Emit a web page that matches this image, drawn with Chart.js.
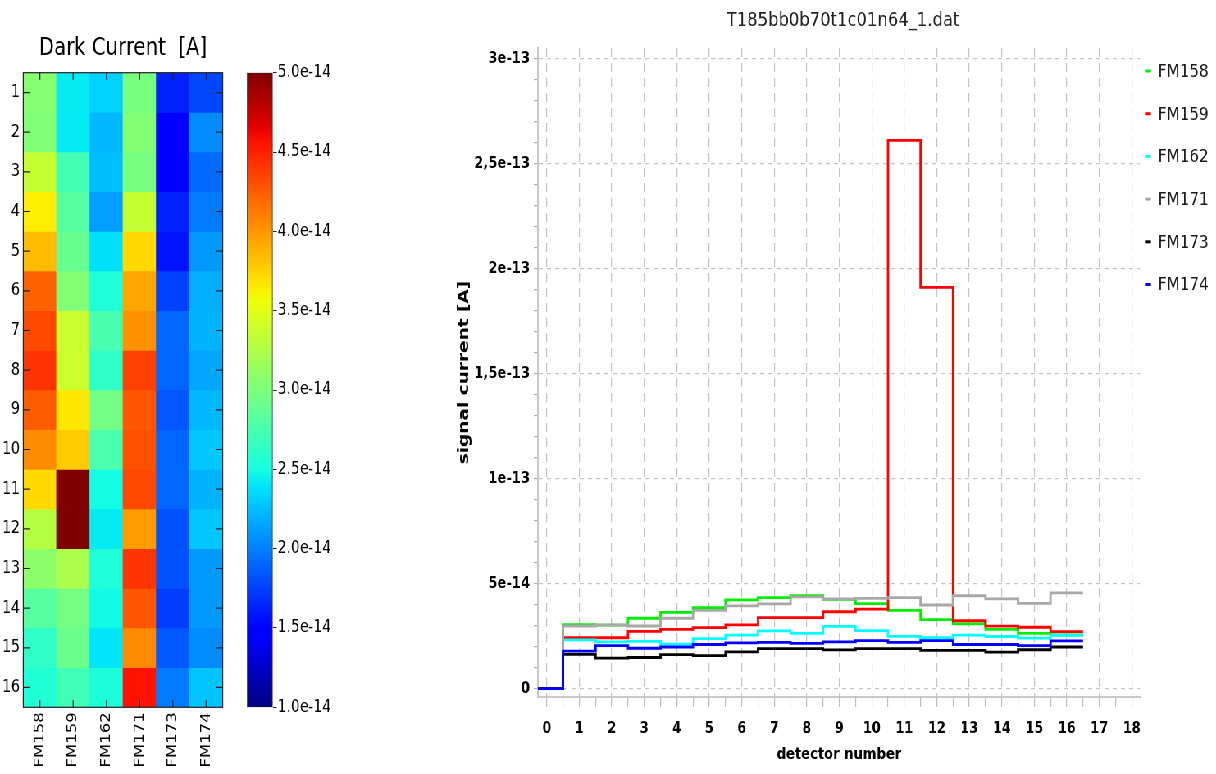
<!DOCTYPE html>
<html>
<head>
<meta charset="utf-8">
<script src="https://cdn.jsdelivr.net/npm/chart.js@4/dist/chart.umd.min.js"></script>
<style>
  html, body { margin: 0; padding: 0; background: #fff; overflow: hidden; }
  #stage { position: absolute; left: 0; top: 0; width: 1483px; height: 774px;
           transform: scaleX(0.82); transform-origin: 0 0; }
  .box { position: absolute; top: 0; height: 774px; }
</style>
</head>
<body>
<div id="stage">
  <div class="box" style="left:0;width:300px"><canvas id="heat"></canvas></div>
  <div class="box" style="left:300px;width:110px"><canvas id="cbar"></canvas></div>
  <div class="box" style="left:500px;width:983px"><canvas id="line"></canvas></div>
</div>
<script>
// ---------------- data (currents in units of 1e-14 A) ----------------
const detectors = [0, 1, 2, 3, 4, 5, 6, 7, 8, 9, 10, 11, 12, 13, 14, 15, 16];
const modules   = ['FM158', 'FM159', 'FM162', 'FM171', 'FM173', 'FM174'];
const lineColors = ['#00EE00', '#FF0000', '#00FFFF', '#A8A8A8', '#000000', '#0000FF'];

const FM158 = [0, 3.05, 3.02, 3.35, 3.63, 3.85, 4.22, 4.33, 4.42, 4.25, 4.05, 3.72, 3.28, 3.08, 2.82, 2.63, 2.56];
const FM159 = [0, 2.42, 2.42, 2.72, 2.82, 2.90, 3.03, 3.38, 3.38, 3.66, 3.78, 26.1, 19.1, 3.23, 2.97, 2.92, 2.71];
const FM162 = [0, 2.32, 2.22, 2.25, 2.12, 2.38, 2.55, 2.75, 2.63, 2.96, 2.76, 2.49, 2.42, 2.55, 2.48, 2.40, 2.54];
const FM171 = [0, 2.98, 3.03, 2.98, 3.35, 3.72, 3.94, 4.03, 4.37, 4.27, 4.30, 4.33, 3.98, 4.42, 4.27, 4.06, 4.56];
const FM173 = [0, 1.63, 1.45, 1.48, 1.62, 1.57, 1.75, 1.90, 1.90, 1.84, 1.90, 1.90, 1.82, 1.82, 1.74, 1.85, 1.98];
const FM174 = [0, 1.78, 2.05, 1.92, 1.98, 2.10, 2.18, 2.20, 2.15, 2.22, 2.28, 2.20, 2.28, 2.10, 2.10, 2.05, 2.27];
const seriesValues = [FM158, FM159, FM162, FM171, FM173, FM174];

// heat map rows (detectors 1..16)
const heatRows = ['1','2','3','4','5','6','7','8','9','10','11','12','13','14','15','16'];
// colour bar
const cbarRange  = [1.0, 5.0];
const cbarTicks  = [1.0, 1.5, 2.0, 2.5, 3.0, 3.5, 4.0, 4.5, 5.0];
const cbarLabels = ['1.0e-14','1.5e-14','2.0e-14','2.5e-14','3.0e-14','3.5e-14','4.0e-14','4.5e-14','5.0e-14'];
// line chart axes
const yMajor  = [0, 5, 10, 15, 20, 25, 30];
const yLabels = ['0', '5e-14', '1e-13', '1,5e-13', '2e-13', '2,5e-13', '3e-13'];
const xTicks  = [0,1,2,3,4,5,6,7,8,9,10,11,12,13,14,15,16,17,18];
const xLabels = ['0','1','2','3','4','5','6','7','8','9','10','11','12','13','14','15','16','17','18'];

const HEAT_TITLE = 'Dark Current  [A]';
const LINE_TITLE = 'T185bb0b70t1c01n64_1.dat';
const FONT = '"DejaVu Sans", sans-serif';

// ---------------- jet colormap ----------------
const JET = {
  r: [[0,0],[0.35,0],[0.66,1],[0.89,1],[1,0.5]],
  g: [[0,0],[0.125,0],[0.375,1],[0.64,1],[0.91,0],[1,0]],
  b: [[0,0.5],[0.11,1],[0.34,1],[0.65,0],[1,0]]
};
function seg(p, t) {
  for (let i = 1; i < p.length; i++) {
    if (t <= p[i][0]) {
      const [x0, y0] = p[i-1], [x1, y1] = p[i];
      return y0 + (y1 - y0) * (t - x0) / (x1 - x0);
    }
  }
  return p[p.length-1][1];
}
function jet(t) {
  t = Math.max(0, Math.min(1, t));
  return 'rgb(' + Math.round(255*seg(JET.r,t)) + ',' + Math.round(255*seg(JET.g,t)) + ',' + Math.round(255*seg(JET.b,t)) + ')';
}
function cmap(v) { return jet((v - cbarRange[0]) / (cbarRange[1] - cbarRange[0])); }

// ---------------- heat map ----------------
const heatFrame = {
  id: 'heatFrame',
  afterDatasetsDraw(chart) {
    const {ctx, chartArea: a, scales: {x, y}} = chart;
    ctx.save();
    ctx.strokeStyle = '#222';
    ctx.lineWidth = 1.2;
    ctx.beginPath();
    y.ticks.forEach(t => {
      const py = y.getPixelForValue(t.value);
      ctx.moveTo(a.left, py);  ctx.lineTo(a.left + 8.5, py);
      ctx.moveTo(a.right, py); ctx.lineTo(a.right - 8.5, py);
    });
    x.ticks.forEach((t, i) => {
      const px = x.getPixelForValue(i);
      ctx.moveTo(px, a.top);    ctx.lineTo(px, a.top + 7);
      ctx.moveTo(px, a.bottom); ctx.lineTo(px, a.bottom - 7);
    });
    ctx.stroke();
    ctx.strokeRect(a.left, a.top, a.right - a.left, a.bottom - a.top);
    ctx.restore();
  }
};

new Chart(document.getElementById('heat'), {
  type: 'bar',
  data: {
    labels: modules,
    datasets: heatRows.map((r, i) => ({
      label: r,
      data: modules.map(() => [detectors[i+1] - 0.5, detectors[i+1] + 0.5]),
      backgroundColor: modules.map((m, c) => cmap(seriesValues[c][i+1])),
      borderWidth: 0,
      grouped: false,
      barPercentage: 1,
      categoryPercentage: 1
    }))
  },
  options: {
    responsive: true, maintainAspectRatio: false, animation: false,
    devicePixelRatio: 1,
    layout: { padding: { left: 0, right: 0, top: 0, bottom: 0 } },
    plugins: {
      legend: { display: false }, tooltip: { enabled: false },
      title: { display: true, text: HEAT_TITLE, color: '#000',
               font: { family: FONT, size: 24, weight: 'normal' },
               padding: { top: 34.4, bottom: 9.5 } }
    },
    scales: {
      x: { type: 'category',
           grid: { display: false, drawTicks: false }, border: { display: false },
           ticks: { autoSkip: false, minRotation: 90, maxRotation: 90, padding: 5, color: '#000',
                    font: { family: FONT, size: 16.5 } },
           afterFit: s => { s.height = 66.7; } },
      y: { type: 'linear', min: 0.5, max: 16.5, reverse: true,
           grid: { display: false, drawTicks: false }, border: { display: false },
           afterBuildTicks: s => { s.ticks = heatRows.map((r, i) => ({ value: detectors[i+1] })); },
           ticks: { autoSkip: false, padding: 4, color: '#000', font: { family: FONT, size: 17 },
                    callback: (v, i) => heatRows[i] },
           afterFit: s => { s.width = 28.4; } },
      yRight: { type: 'linear', position: 'right', display: true,
                grid: { display: false, drawTicks: false }, border: { display: false },
                ticks: { display: false },
                afterFit: s => { s.width = 28.4; } }
    }
  },
  plugins: [heatFrame]
});

// ---------------- colour bar ----------------
new Chart(document.getElementById('cbar'), {
  type: 'bar',
  data: {
    labels: [''],
    datasets: [{
      data: [cbarRange],
      backgroundColor: c => {
        const a = c.chart.chartArea;
        if (!a) return '#888';
        const g = c.chart.ctx.createLinearGradient(0, a.bottom, 0, a.top);
        for (let i = 0; i <= 64; i++) g.addColorStop(i / 64, jet(i / 64));
        return g;
      },
      borderColor: '#222', borderWidth: 1.2, borderSkipped: false,
      barPercentage: 1, categoryPercentage: 1
    }]
  },
  options: {
    responsive: true, maintainAspectRatio: false, animation: false,
    devicePixelRatio: 1,
    layout: { padding: { left: 1.2, right: 0, top: 72.7, bottom: 66.7 } },
    plugins: { legend: { display: false }, tooltip: { enabled: false } },
    scales: {
      x: { display: false },
      y: { type: 'linear', position: 'right', min: cbarRange[0], max: cbarRange[1],
           afterBuildTicks: s => { s.ticks = cbarTicks.map(v => ({ value: v })); },
           grid: { drawOnChartArea: false, drawTicks: true, tickLength: 5, tickColor: '#222' },
           border: { display: false },
           ticks: { autoSkip: false, padding: 1, color: '#000', font: { family: FONT, size: 17 },
                    callback: (v, i) => cbarLabels[i] },
           afterFit: s => { s.width = 77.4; } }
    }
  }
});

// ---------------- step line chart ----------------
function stepData(vals) {
  const pts = vals.map((v, i) => ({ x: detectors[i] - 0.5, y: v }));
  pts.push({ x: detectors[detectors.length-1] + 0.5, y: vals[vals.length-1] });
  return pts;
}

const lineDecor = {
  id: 'lineDecor',
  afterDraw(chart) {
    const {ctx, chartArea: a} = chart;
    ctx.save();
    ctx.fillStyle = '#222';
    ctx.textAlign = 'center';
    ctx.textBaseline = 'middle';
    ctx.font = '20px ' + FONT;
    ctx.fillText(LINE_TITLE, (a.left + a.right) / 2 + 5, 21);
    ctx.textAlign = 'left';
    ctx.font = '18.5px ' + FONT;
    modules.forEach((m, k) => {
      const y = 71 + 42.7 * k;
      ctx.fillStyle = lineColors[k];
      ctx.fillRect(a.right + 6.1, y - 1.5, 7.3, 3);
      ctx.fillStyle = '#1a1a1a';
      ctx.fillText(m, a.right + 22, y + 1);
    });
    ctx.restore();
  }
};

new Chart(document.getElementById('line'), {
  type: 'line',
  data: {
    datasets: modules.map((m, k) => ({
      label: m,
      data: stepData(seriesValues[k]),
      borderColor: lineColors[k],
      backgroundColor: lineColors[k],
      borderWidth: 2.8,
      pointRadius: 0,
      stepped: true,
      fill: false,
      order: modules.length - 1 - k
    }))
  },
  options: {
    responsive: true, maintainAspectRatio: false, animation: false,
    devicePixelRatio: 1,
    layout: { padding: { left: 55, right: 92.8, top: 48, bottom: 10 } },
    plugins: { legend: { display: false }, tooltip: { enabled: false }, title: { display: false } },
    scales: {
      x: { type: 'linear', min: -0.27, max: 18.25,
           afterBuildTicks: s => {
             s.ticks = [];
             xTicks.forEach((v, i) => {
               s.ticks.push({ value: v });
               if (i < xTicks.length - 1) s.ticks.push({ value: v + 0.5 });
             });
           },
           ticks: { autoSkip: false, maxRotation: 0, padding: 13, color: '#000',
                    font: { family: FONT, size: 15.5, weight: 'bold' },
                    callback: v => { const i = xTicks.indexOf(v); return i >= 0 ? xLabels[i] : ''; } },
           grid: { color: c => (c.tick && xTicks.includes(c.tick.value)) ? '#C4C4C4' : 'rgba(0,0,0,0)',
                   tickColor: '#BDBDBD', tickLength: 10, lineWidth: 1.2 },
           border: { display: true, color: '#C8C8C8', width: 2, dash: [9, 6] },
           title: { display: true, text: 'detector number', color: '#000', padding: 0,
                    font: { family: FONT, size: 16, weight: 'bold' } },
           afterFit: s => { s.height = 67; } },
      y: { type: 'linear', min: -0.4, max: 30.5,
           afterBuildTicks: s => {
             s.ticks = [];
             for (let v = yMajor[0]; v <= yMajor[yMajor.length-1]; v++) s.ticks.push({ value: v });
           },
           ticks: { autoSkip: false, padding: 4.8, color: '#000',
                    font: { family: FONT, size: 16, weight: 'bold' },
                    callback: v => { const i = yMajor.indexOf(v); return i >= 0 ? yLabels[i] : ''; } },
           grid: { color: c => (c.tick && yMajor.includes(c.tick.value)) ? '#C4C4C4' : 'rgba(0,0,0,0)',
                   tickColor: '#A8A8A8', tickLength: 5, lineWidth: 1.2 },
           border: { display: true, color: '#C8C8C8', width: 2, dash: [5, 5] },
           title: { display: true, text: 'signal current [A]', color: '#000', padding: 0,
                    font: { family: FONT, size: 18.5, weight: 'bold' } },
           afterFit: s => { s.width = 101.1; } }
    }
  },
  plugins: [lineDecor]
});
</script>
</body>
</html>
